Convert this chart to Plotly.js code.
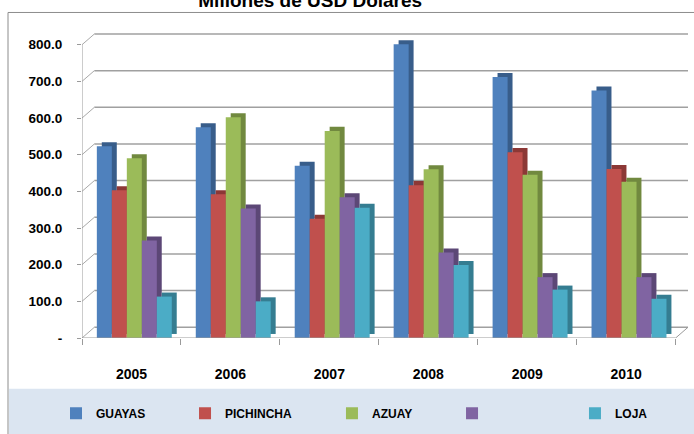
<!DOCTYPE html>
<html>
<head>
<meta charset="utf-8">
<script src="https://cdn.plot.ly/plotly-3.0.1.min.js"></script>
<style>html,body{margin:0;padding:0;background:#fff;}#chart{width:694px;height:434px;}</style>
</head>
<body>
<div id="chart"></div>
<script>
// ---- data ----
var years = ['2005', '2006', '2007', '2008', '2009', '2010'];
var seriesNames = ['GUAYAS', 'PICHINCHA', 'AZUAY', '', 'LOJA'];
var guayas    = [523, 575, 470, 801, 712, 675];
var pichincha = [403, 392, 325, 417, 507, 461];
var azuay     = [490, 602, 565, 460, 445, 426];
var unnamed   = [266, 353, 384, 233, 166, 166];
var loja      = [113, 100, 355, 199, 132, 107];
var tickVals  = [0, 100, 200, 300, 400, 500, 600, 700, 800];
var tickText  = ['-', '100.0', '200.0', '300.0', '400.0', '500.0', '600.0', '700.0', '800.0'];

// ---- styling ----
var seriesValues = [guayas, pichincha, azuay, unnamed, loja];
var frontColors = ['#4F81BD', '#C0504D', '#9BBB59', '#8064A2', '#4BACC6'];
var sideColors  = ['#385D8A', '#8C3836', '#71893F', '#5C4776', '#357D91'];
var legendX = [-0.0429, 0.170, 0.4125, 0.6106, 0.8135];   // legend slot positions (paper)
var legendIds = ['legend', 'legend2', 'legend3', 'legend4', 'legend5'];
var sans = '"Liberation Sans", Arial, sans-serif';
var barW = 0.1515, firstOff = -0.35;
var DX = 0.125, DY = 29.3;        // oblique depth of the back wall (category units / value units)
var sideDX = 0.05, sideDY = 11;    // depth of each column

var traces = [];
// darker "depth" faces first (behind)
seriesValues.forEach(function (vals, i) {
  traces.push({
    type: 'bar', x: years, y: vals, base: sideDY,
    offset: firstOff + i * barW + sideDX, width: barW,
    marker: {color: sideColors[i], line: {width: 0}},
    showlegend: false, hoverinfo: 'skip'
  });
});
// front faces
seriesValues.forEach(function (vals, i) {
  traces.push({
    type: 'bar', x: years, y: vals, name: seriesNames[i], legend: legendIds[i],
    offset: firstOff + i * barW, width: barW,
    marker: {color: frontColors[i], line: {width: 0}}
  });
});

var shapes = [];
// outer frame and legend band
shapes.push({type: 'rect', xref: 'paper', yref: 'paper', x0: -0.1221, x1: 1.03, y0: -0.4, y1: 1.0673,
  line: {color: '#8C8C8C', width: 1}, fillcolor: 'rgba(0,0,0,0)', layer: 'below'});
shapes.push({type: 'rect', xref: 'paper', yref: 'paper', x0: -0.1205, x1: 1.03, y0: -0.4, y1: -0.1667,
  line: {width: 0}, fillcolor: '#DBE5F1', layer: 'below'});
// back wall gridlines and left wall diagonals
tickVals.forEach(function (v) {
  shapes.push({type: 'line', xref: 'x', yref: 'y', x0: -0.5 + DX, x1: 5.5 + DX, y0: v + DY, y1: v + DY,
    line: {color: '#A0A0A0', width: 1.5}, layer: 'below'});
  shapes.push({type: 'line', xref: 'x', yref: 'y', x0: -0.5, x1: -0.5 + DX, y0: v, y1: v + DY,
    line: {color: '#A8A8A8', width: 1}, layer: 'below'});
});
// front axis lines
shapes.push({type: 'line', xref: 'x', yref: 'y', x0: -0.5, x1: -0.5, y0: 0, y1: tickVals[tickVals.length - 1],
  line: {color: '#9A9A9A', width: 1}, layer: 'below'});
shapes.push({type: 'line', xref: 'x', yref: 'y', x0: -0.5, x1: 5.5, y0: 0, y1: 0,
  line: {color: '#9A9A9A', width: 1}, layer: 'above'});
shapes.push({type: 'line', xref: 'x', yref: 'y', x0: 5.5, x1: 5.5 + DX, y0: 0, y1: DY,
  line: {color: '#9A9A9A', width: 1}, layer: 'above'});

var layout = {
  width: 694, height: 434,
  margin: {l: 82, r: 6, t: 33, b: 89},
  paper_bgcolor: '#FFFFFF', plot_bgcolor: 'rgba(0,0,0,0)',
  barmode: 'overlay',
  title: {text: 'Millones de USD Dolares', xref: 'container', yref: 'container', x: 0.447, xanchor: 'center',
    y: 1, yanchor: 'middle', font: {family: sans, size: 19, weight: 700, color: '#000'}},
  xaxis: {type: 'category', range: [-0.5, 5.5 + DX], showgrid: false, zeroline: false, showline: false,
    ticks: 'outside', tickson: 'boundaries', ticklen: 6, tickcolor: '#9A9A9A', ticklabelstandoff: 26,
    tickfont: {family: sans, size: 14, weight: 700, color: '#000'}, fixedrange: true},
  yaxis: {range: [0, 832], showgrid: false, zeroline: false, showline: false,
    tickvals: tickVals, ticktext: tickText, ticks: 'outside', ticklen: 4, tickcolor: '#9A9A9A',
    ticklabelstandoff: 12, tickfont: {family: sans, size: 13.5, weight: 700, color: '#000'}, fixedrange: true},
  shapes: shapes
};
legendIds.forEach(function (id, i) {
  layout[id] = {orientation: 'h', x: legendX[i], xanchor: 'left', y: -0.247, yanchor: 'middle',
    bgcolor: 'rgba(0,0,0,0)', borderwidth: 0,
    font: {family: sans, size: 12, weight: 700, color: '#000'}};
});

Plotly.newPlot('chart', traces, layout, {displayModeBar: false, staticPlot: true});
</script>
</body>
</html>
